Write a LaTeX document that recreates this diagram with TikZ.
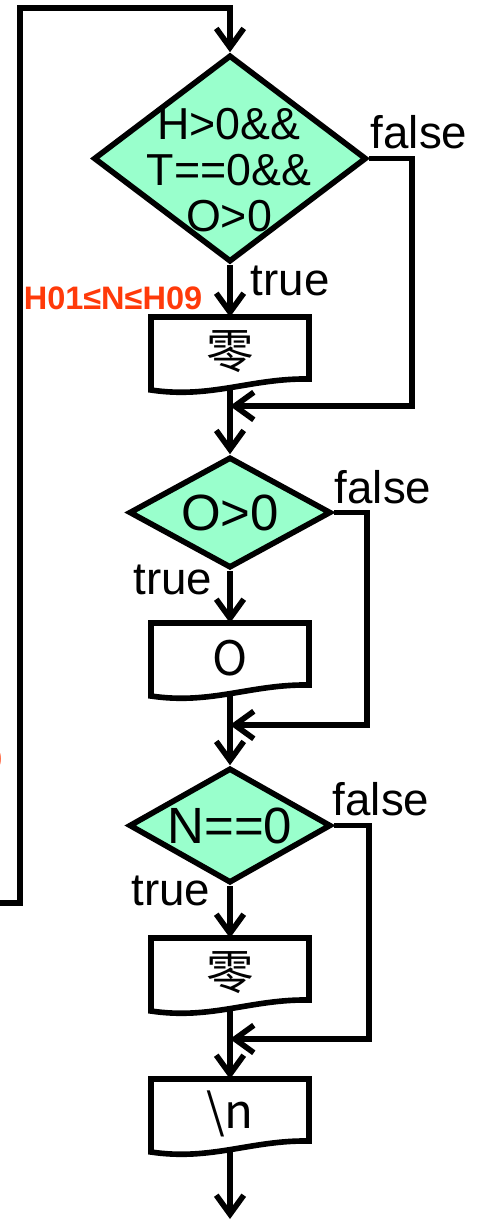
\documentclass[tikz,border=0pt]{standalone}
\usepackage{fontspec}
\setmainfont{Liberation Sans}
\newfontfamily\cjk{Noto Sans CJK SC}
\usetikzlibrary{shapes.geometric,arrows.meta}
\definecolor{condgreen}{HTML}{99FFCC}
\definecolor{rangered}{RGB}{255,58,10}

\begin{document}
\begin{tikzpicture}[x=0.02cm,y=-0.02cm,line width=3.2pt,
  flow/.style={-{Straight Barb[length=0.38cm,width=0.55cm]}},
  decision/.style={diamond,draw,fill=condgreen,inner sep=0pt},
  docbox/.style={inner sep=0pt,outer sep=0pt,minimum width=3.16cm,minimum height=1.4cm,
    font=\cjk\fontsize{27}{30}\selectfont},
  cond/.style={inner sep=0pt,font=\fontsize{29}{32}\selectfont},
  lbl/.style={inner sep=0pt,font=\fontsize{26}{30}\selectfont},
  rangetag/.style={inner sep=0pt,text=rangered,font=\bfseries\fontsize{18.5}{20}\selectfont}]
\useasboundingbox (0,0) rectangle (486,1221);

% conditions
\node[decision,minimum width=5.46cm,minimum height=4.14cm] (d1) at (230,158.5) {};
\node[cond,align=center,font=\fontsize{25.5}{26.4}\selectfont] (d1t) at (229,170) {H>0\&\&\\T==0\&\&\\O>0};
\node[decision,minimum width=4.04cm,minimum height=2.22cm] (d2) at (230,512.5) {};
\node[cond] (d2t) at (d2) {O>0};
\node[decision,minimum width=4.04cm,minimum height=2.3cm] (d3) at (230,825.5) {};
\node[cond] (d3t) at (d3) {N==0};

% outputs
\node[docbox] (p1) at (230,352) {零};
\node[docbox] (p2) at (230,658) {O};
\node[docbox] (p3) at (230,973) {零};
\node[docbox] (p4) at (230,1114) {\textbackslash n};
\foreach \p in {p1,p2,p3,p4}
  \draw[shift={(\p.north west)}] (0,0) -- (158,0) -- (158,62)
    .. controls (100,61) and (60,82) .. (0,73) -- cycle;

% branch labels
\node[lbl,anchor=base west] (f1) at (368,148) {false};
\node[lbl,anchor=base west] (t1) at (248,295) {true};
\node[lbl,anchor=base west] (f2) at (332,503) {false};
\node[lbl,anchor=base east] (t2) at (215,594) {true};
\node[lbl,anchor=base west] (f3) at (330,815) {false};
\node[lbl,anchor=base east] (t3) at (213,905) {true};
\node[rangetag,anchor=base east] (r1) at (205,309) {H01≤N≤H09};
\node[rangetag,anchor=base east] (r2) at (5,770) {0};

% connectors
\coordinate (back) at (-5,903);
\coordinate (up) at (20,8);
\coordinate (j1) at (230,406);
\coordinate (j2) at (230,725);
\coordinate (j3) at (230,1039);
\coordinate (out) at (230,1219);

\draw[flow] (back) -| (up) -| (d1.north);
\draw[flow] (d1.south) -- (p1.north);
\draw[flow] (d1.east) -- ++(43,0) |- (j1);
\draw[flow] (p1.south) -- (d2.north);
\draw[flow] (d2.south) -- (p2.north);
\draw[flow] (d2.east) -- ++(33,0) |- (j2);
\draw[flow] (p2.south) -- (d3.north);
\draw[flow] (d3.south) -- (p3.north);
\draw[flow] (d3.east) -- ++(35,0) |- (j3);
\draw[flow] (p3.south) -- (p4.north);
\draw[flow] (p4.south) -- (out);
\end{tikzpicture}
\end{document}
